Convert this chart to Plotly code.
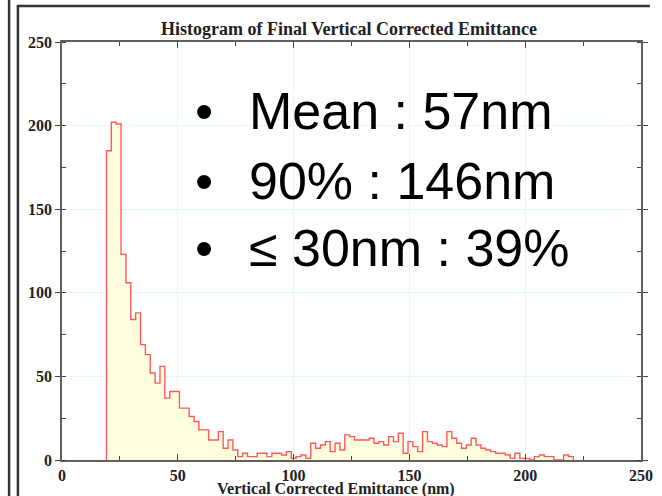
import numpy as np
import plotly.graph_objects as go

# ---- data ----
bin_start = 19.2
bin_width = 2.1
counts = [185, 202, 201, 123, 106, 84, 88, 69, 63, 52,
          46, 56, 37, 41, 41, 31, 31, 26, 23, 18,
          18, 12, 12, 17, 7, 12, 6, 2, 4, 2,
          2, 4, 4, 2, 4, 4, 3, 5, 1, 2,
          3, 1, 10, 7, 9, 11, 5, 10, 6, 15,
          14, 12, 12, 12, 13, 10, 11, 9, 14, 11,
          16, 4, 11, 8, 5, 17, 11, 10, 9, 8,
          17, 13, 10, 7, 9, 13, 9, 7, 6, 5,
          4, 4, 3, 1, 4, 1, 1, 0, 2, 3,
          2, 2, 0, 0, 3, 2]
x_ticks = [0, 50, 100, 150, 200, 250]
y_ticks = [0, 50, 100, 150, 200, 250]
stats_lines = ["Mean : 57nm", "90% : 146nm", "\u2264 30nm : 39%"]
title_text = "Histogram of Final Vertical Corrected Emittance"
xaxis_title = "Vertical Corrected Emittance (nm)"

# ---- build step outline from the bins ----
n = len(counts)
edges = bin_start + bin_width * np.arange(n + 1)
xs = np.concatenate([[edges[0]], edges[:n], [edges[n]]])
ys = np.concatenate([[0], counts, [0]])

W, H = 662, 496
ML, MR, MT, MB = 62, 9, 42, 36
PW, PH = W - ML - MR, H - MT - MB


def px(x):
    return (x - ML) / PW


def py(y):
    return (H - MB - y) / PH


fig = go.Figure()
fig.add_trace(go.Scatter(
    x=xs, y=ys, mode="lines", line=dict(shape="hv", color="#ff5a5a", width=1.4),
    fill="tozeroy", fillcolor="rgb(255,255,224)", hoverinfo="skip", showlegend=False))

serif = "Liberation Serif"
axis_common = dict(
    range=[0, 250], showline=True, linecolor="#606060", linewidth=1.5, mirror="allticks",
    showgrid=True, gridcolor="#e4f7f7", gridwidth=1, zeroline=False,
    tickfont=dict(family=serif, size=16, color="#222", weight="bold"),
)
fig.update_xaxes(**axis_common, tickvals=x_ticks, ticks="inside", ticklen=6, tickcolor="#444",
                 minor=dict(ticks="inside", dtick=25, ticklen=4, tickcolor="#444", showgrid=False))
fig.update_yaxes(**axis_common, tickvals=y_ticks, ticks="outside", ticklen=5, tickcolor="#444",
                 minor=dict(ticks="inside", dtick=25, ticklen=4, tickcolor="#444", showgrid=False))

annotations = []
annotations.append(dict(text=title_text, x=px(355), y=py(29), xref="paper", yref="paper",
                        showarrow=False, xanchor="center", yanchor="middle",
                        font=dict(family=serif, size=18, color="#222", weight="bold")))
annotations.append(dict(text=xaxis_title, x=px(342), y=py(489), xref="paper", yref="paper",
                        showarrow=False, xanchor="center", yanchor="middle",
                        font=dict(family=serif, size=16, color="#222", weight="bold")))
line_y = [111, 181, 248]
for t, yy in zip(stats_lines, line_y):
    annotations.append(dict(text="\u2022", x=px(207), y=py(yy), xref="paper", yref="paper",
                            showarrow=False, xanchor="center", yanchor="middle",
                            font=dict(family="Liberation Sans", size=52, color="black")))
    annotations.append(dict(text=t, x=px(251), y=py(yy), xref="paper", yref="paper",
                            showarrow=False, xanchor="left", yanchor="middle",
                            font=dict(family="Liberation Sans", size=52, color="black")))

shapes = [
    dict(type="line", xref="paper", yref="paper", x0=px(8), x1=px(8), y0=py(0), y1=py(496),
         line=dict(color="#333", width=2.5)),
    dict(type="line", xref="paper", yref="paper", x0=px(17), x1=px(17), y0=py(5), y1=py(496),
         line=dict(color="#333", width=2.5)),
    dict(type="line", xref="paper", yref="paper", x0=px(16), x1=px(662), y0=py(6), y1=py(6),
         line=dict(color="#333", width=2.5)),
]

fig.update_layout(
    width=W, height=H, margin=dict(l=ML, r=MR, t=MT, b=MB, pad=0),
    paper_bgcolor="white", plot_bgcolor="white",
    annotations=annotations, shapes=shapes, showlegend=False,
)

# remove the browser's default page margin so the figure sits at the window's top-left corner
fig.write_html("out.html", config={"displayModeBar": False},
               post_script="document.body.style.margin='0px';")
